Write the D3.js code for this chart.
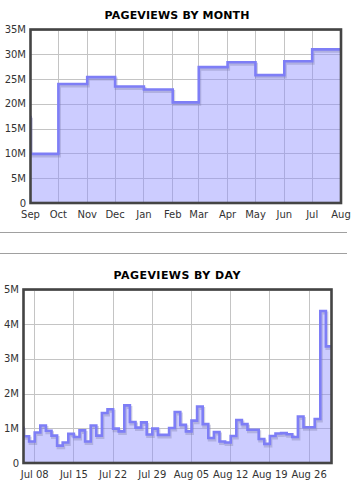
<!DOCTYPE html>
<html>
<head>
<meta charset="utf-8">
<script src="https://cdn.jsdelivr.net/npm/d3@7"></script>
<style>
html,body{margin:0;padding:0;background:#fff;}
svg{display:block;}
</style>
</head>
<body>
<svg id="chart" width="356" height="487"></svg>
<script>
// ---- Data ----
const monthTitle = "PAGEVIEWS BY MONTH";
const dayTitle = "PAGEVIEWS BY DAY";

// monthly points (step-before: value of segment ending at that month start)
const monthDates = ["2006-09-01","2006-10-01","2006-11-01","2006-12-01","2007-01-01","2007-02-01",
                    "2007-03-01","2007-04-01","2007-05-01","2007-06-01","2007-07-01","2007-08-01"];
const monthViews = [17.6, 9.9, 24.0, 25.4, 23.5, 22.9, 20.3, 27.4, 28.4, 25.8, 28.6, 31.0]; // millions
const monthYTicks = [0, 5, 10, 15, 20, 25, 30, 35];

const dayStart = "2007-07-06";
const dayViews = [
  1.05, 0.77, 0.62, 0.88, 1.08, 0.93, 0.79, 0.50, 0.59, 0.84, 0.75, 0.94, 0.62, 1.08,
  0.79, 1.44, 1.55, 0.99, 0.91, 1.66, 1.18, 1.02, 1.17, 0.82, 0.99, 0.81,
  0.81, 1.01, 1.47, 1.10, 0.91, 1.22, 1.63, 1.12, 0.72, 0.89, 0.62, 0.59, 0.78, 1.24,
  1.12, 0.96, 0.96, 0.69, 0.55, 0.78, 0.85, 0.86, 0.83, 0.75, 1.34, 1.03, 1.03, 1.27,
  4.38, 3.36
]; // millions
const dayYTicks = [0, 1, 2, 3, 4, 5];
const dayXTicks = ["2007-07-08","2007-07-15","2007-07-22","2007-07-29","2007-08-05","2007-08-12","2007-08-19","2007-08-26"];

// ---- Helpers ----
const parse = d3.timeParse("%Y-%m-%d");
const svg = d3.select("#chart");
const FONT = "'DejaVu Sans', Verdana, sans-serif";
const mfmt = v => v === 0 ? "0" : v + "M";

function drawChart(cfg) {
  const {x, y, data, xTicks, yTicks, xFormat, title, titleY, titleLen, yLabelX, xLabelY, clipId} = cfg;
  const [x0, x1] = x.range();
  const [yb, yt] = y.range();
  const g = svg.append("g");

  // grid
  g.append("g").selectAll("line.v").data(xTicks).join("line")
    .attr("x1", d => x(d)).attr("x2", d => x(d))
    .attr("y1", yt).attr("y2", yb)
    .attr("stroke", "#c4c4c4").attr("stroke-width", 1).attr("shape-rendering", "crispEdges");
  g.append("g").selectAll("line.h").data(yTicks).join("line")
    .attr("x1", x0).attr("x2", x1)
    .attr("y1", d => Math.round(y(d)) + 0.5).attr("y2", d => Math.round(y(d)) + 0.5)
    .attr("stroke", "#c4c4c4").attr("stroke-width", 1);

  svg.append("clipPath").attr("id", clipId).append("rect")
    .attr("x", x0).attr("y", yt).attr("width", x1 - x0).attr("height", yb - yt);

  const area = d3.area().curve(d3.curveStepBefore)
    .x(d => x(d.date)).y0(yb).y1(d => y(d.value));
  const line = d3.line().curve(d3.curveStepBefore)
    .x(d => x(d.date)).y(d => y(d.value));

  const pg = g.append("g").attr("clip-path", `url(#${clipId})`);
  pg.append("path").datum(data).attr("d", area)
    .attr("fill", "#8a8aff").attr("fill-opacity", 0.44);
  pg.append("path").datum(data).attr("d", line)
    .attr("transform", "translate(1,2)")
    .attr("fill", "none").attr("stroke", "#7a7aa8").attr("stroke-opacity", 0.35)
    .attr("stroke-width", 3);
  pg.append("path").datum(data).attr("d", line)
    .attr("fill", "none").attr("stroke", "#7e7ef6").attr("stroke-width", 2.6)
    .attr("stroke-linejoin", "miter");

  // frame
  g.append("rect").attr("x", x0).attr("y", yt).attr("width", x1 - x0).attr("height", yb - yt)
    .attr("fill", "none").attr("stroke", "#444").attr("stroke-width", 2.6);

  // y labels
  g.append("g").selectAll("text").data(yTicks).join("text")
    .attr("x", yLabelX).attr("y", d => y(d)).attr("dy", "0.35em")
    .attr("text-anchor", "end").attr("font-family", FONT).attr("font-size", 10)
    .attr("fill", "#333").text(mfmt);

  // x labels
  g.append("g").selectAll("text").data(cfg.xLabelDates).join("text")
    .attr("x", d => x(d)).attr("y", xLabelY).attr("dy", "0.35em")
    .attr("text-anchor", "middle").attr("font-family", FONT).attr("font-size", 10)
    .attr("fill", "#333").text(xFormat);

  // title
  g.append("text").attr("x", 177).attr("y", titleY).attr("dy", "0.35em")
    .attr("text-anchor", "middle").attr("font-family", FONT).attr("font-weight", "bold")
    .attr("font-size", 11).attr("textLength", titleLen).attr("lengthAdjust", "spacing")
    .attr("fill", "#000").text(title);
}

// ---- Monthly chart ----
const mDates = monthDates.map(parse);
const mData = mDates.map((d, i) => ({date: d, value: monthViews[i]}));
const xm = d3.scaleTime().domain([mDates[0], mDates[mDates.length - 1]]).range([30.5, 341]);
const ym = d3.scaleLinear().domain([0, 35]).range([203, 29.5]);
drawChart({
  x: xm, y: ym, data: mData,
  xTicks: mDates.slice(1, -1), xLabelDates: mDates, yTicks: monthYTicks,
  xFormat: d3.timeFormat("%b"), title: monthTitle, titleY: 15, titleLen: 145,
  yLabelX: 26, xLabelY: 214, clipId: "clipM"
});

// ---- Daily chart ----
const d0 = parse(dayStart);
const dData = dayViews.map((v, i) => ({date: d3.timeDay.offset(d0, i), value: v}));
const xd = d3.scaleTime().domain([d0, dData[dData.length - 1].date]).range([23.5, 331.5]);
const yd = d3.scaleLinear().domain([0, 5]).range([463, 289.5]);
const dTicks = dayXTicks.map(parse);
drawChart({
  x: xd, y: yd, data: dData,
  xTicks: dTicks, xLabelDates: dTicks, yTicks: dayYTicks,
  xFormat: d3.timeFormat("%b %d"), title: dayTitle, titleY: 275, titleLen: 127,
  yLabelX: 19, xLabelY: 474, clipId: "clipD"
});

// separators
svg.append("g").selectAll("line").data([232.5, 253.5]).join("line")
  .attr("x1", 0).attr("x2", 347).attr("y1", d => d).attr("y2", d => d)
  .attr("stroke", "#a0a0a0").attr("stroke-width", 1);
</script>
</body>
</html>
